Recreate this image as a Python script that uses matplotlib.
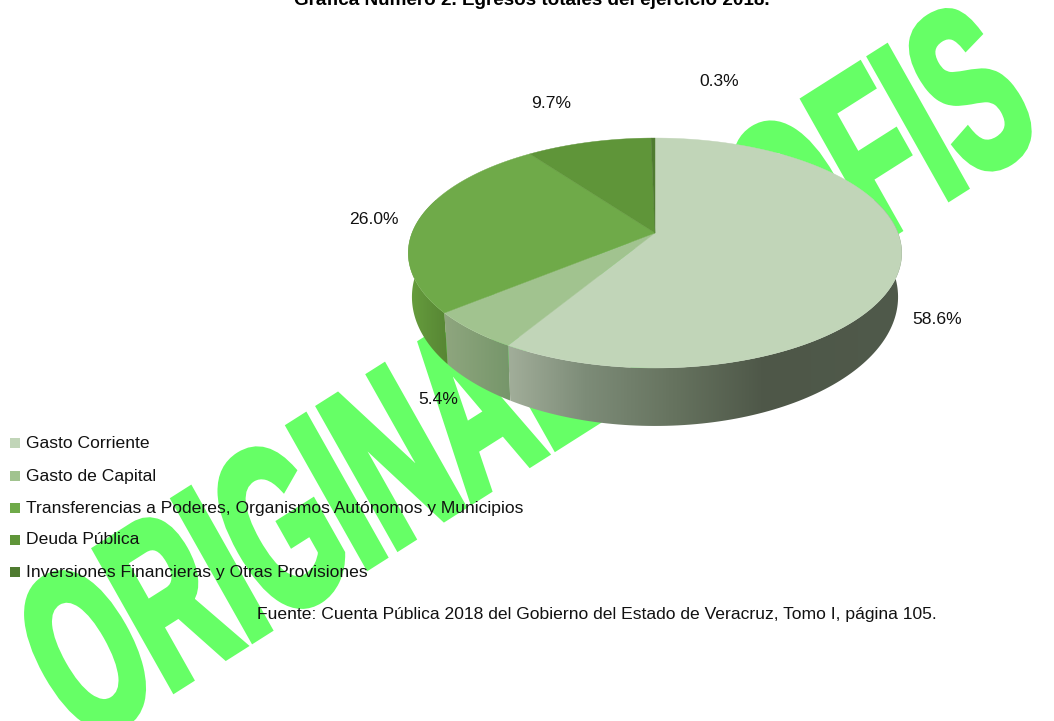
#Grafica de pastel 3D, egresos totales 2018
import numpy as np
import matplotlib
matplotlib.use('Agg')
import matplotlib.pyplot as plt
from matplotlib.patches import Polygon, PathPatch, Rectangle
from matplotlib.textpath import TextPath
from matplotlib.font_manager import FontProperties
from matplotlib.colors import LinearSegmentedColormap
from matplotlib.transforms import Affine2D

categorias = ['Gasto Corriente', 'Gasto de Capital',
              'Transferencias a Poderes, Organismos Autónomos y Municipios',
              'Deuda Pública', 'Inversiones Financieras y Otras Provisiones']
valores = [58.6, 5.4, 26.0, 9.7, 0.3]
etiquetas = ['58.6%', '5.4%', '26.0%', '9.7%', '0.3%']
colores = ['#C1D5B8', '#A1C38F', '#6FAA49', '#5F9539', '#4F7B30']
titulo = 'Gráfica Número 2. Egresos totales del ejercicio 2018.'
fuente = 'Fuente: Cuenta Pública 2018 del Gobierno del Estado de Veracruz, Tomo I, página 105.'
marca = 'ORIGINAL ASOFIS'

plt.rcParams['font.family'] = ['Liberation Sans', 'DejaVu Sans']

fig = plt.figure(figsize=(10.54, 7.21), dpi=100)
ax = fig.add_axes([0, 0, 1, 1])

# marca de agua, va detras de todo
fp = FontProperties(family='Liberation Sans', weight='bold')
tp = TextPath((0, 0), marca, size=100, prop=fp)
caja = tp.get_extents()
sx = 1130 / caja.width
sy = 168 / 72.0
tr = Affine2D().translate(-caja.x0, 0).scale(sx, -sy).skew_deg(-3, 0).rotate_deg(-32.4).translate(87, 745)
ax.add_patch(PathPatch(tp, facecolor='#66FF66', edgecolor='#66FF66', linewidth=5, joinstyle='miter',
                       transform=tr + ax.transData, zorder=1))

# pastel en perspectiva
cx, cy = 655, 233
R, c, k = 243, 111.5, -0.174


def borde(ang):
    u = np.sin(ang)
    v = -np.cos(ang)
    d = 1 + k * v
    return R * u / d, c * v / d


def canto(a1, a2, cols, x1, x2, stops=None):
    t = np.linspace(a1, a2, 120)
    X, Y = borde(t)
    xs = np.r_[cx + X, (cx + 0.985 * X)[::-1]]
    ys = np.r_[cy + Y, (cy + 41.5 + 1.122 * Y)[::-1]]
    cmap = LinearSegmentedColormap.from_list('g', cols if stops is None else list(zip(stops, cols)))
    im = ax.imshow(np.linspace(0, 1, 256).reshape(1, -1), cmap=cmap, aspect='auto',
                   extent=(x1, x2, 440, 200), zorder=2)
    im.set_clip_path(Polygon(np.c_[xs, ys], transform=ax.transData))


angs = np.cumsum([0] + valores) / 100.0 * 2 * np.pi

# cantos visibles
canto(np.radians(70), angs[1], ['#A3AF9B', '#7D8C78', '#66735F', '#4E5748', '#505A4B'], 505, 905,
      [0, 0.2, 0.42, 0.65, 1])
canto(angs[1], angs[2], ['#8FA67F', '#76966A'], 444, 510)
canto(angs[2], np.radians(290), ['#68A03F', '#568433'], 405, 450)

# tapa
for i in range(len(valores)):
    t = np.linspace(angs[i], angs[i + 1], 150)
    X, Y = borde(t)
    pts = np.c_[np.r_[cx, cx + X], np.r_[cy, cy + Y]]
    ax.add_patch(Polygon(pts, closed=True, facecolor=colores[i], edgecolor=colores[i], linewidth=0.3, zorder=3))

# etiquetas de porcentaje
pos_et = [(937, 319), (438, 400), (374, 219), (551, 103), (719, 82)]
for e, p in zip(etiquetas, pos_et):
    ax.text(p[0], p[1], e, fontsize=12.6, ha='center', va='center', color='#111111', zorder=5)

# leyenda
ley_y = [443, 476, 508, 540, 572]
for nombre, col, y in zip(categorias, colores, ley_y):
    ax.add_patch(Rectangle((10, y - 5), 10, 10, facecolor=col, edgecolor='none', zorder=5))
    ax.text(26, y, nombre, fontsize=12.6, ha='left', va='center', color='#111111', zorder=5)

ax.text(531.5, 5, titulo, fontsize=13.6, fontweight='bold', ha='center', va='baseline', color='black', zorder=5)
ax.text(597, 615, fuente, fontsize=12.6, ha='center', va='center', color='#111111', zorder=5)

ax.set_xlim(0, 1054)
ax.set_ylim(721, 0)
ax.axis('off')
fig.savefig('out.png', dpi=100)
